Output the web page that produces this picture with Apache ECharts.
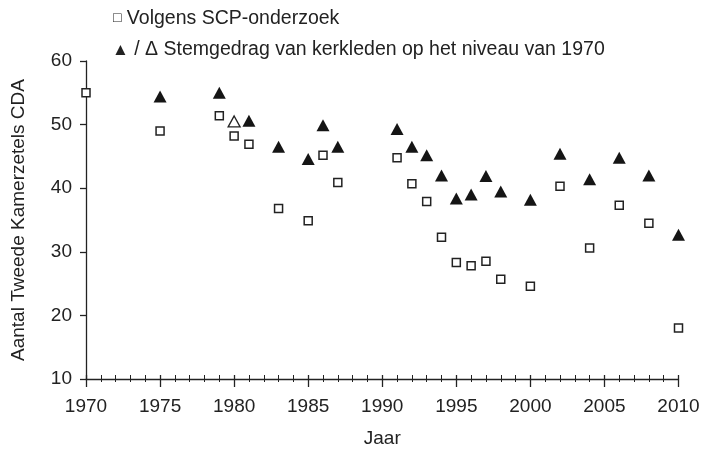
<!DOCTYPE html>
<html>
<head>
<meta charset="utf-8">
<script src="https://cdn.jsdelivr.net/npm/echarts@6/dist/echarts.min.js"></script>
<style>
  html, body { margin: 0; padding: 0; background: #fff; }
  #chart { width: 703px; height: 453px; }
</style>
</head>
<body>
<div id="chart"></div>
<script>
// SCP-onderzoek (open vierkantjes)
const scpYears = [1970, 1975, 1979, 1980, 1981, 1983, 1985, 1986, 1987, 1991, 1992, 1993, 1994, 1995, 1996, 1997, 1998, 2000, 2002, 2004, 2006, 2008, 2010]
const scpSeats = [55, 49, 51.4, 48.2, 46.9, 36.8, 34.9, 45.2, 40.9, 44.8, 40.7, 37.9, 32.3, 28.3, 27.8, 28.5, 25.7, 24.6, 40.3, 30.6, 37.3, 34.5, 18.0]

// Stemgedrag kerkleden op niveau 1970 (dichte driehoekjes)
const kerkYears = [1975, 1979, 1981, 1983, 1985, 1986, 1987, 1991, 1992, 1993, 1994, 1995, 1996, 1997, 1998, 2000, 2002, 2004, 2006, 2008, 2010]
const kerkSeats = [54.4, 55, 50.6, 46.5, 44.6, 49.9, 46.5, 49.3, 46.5, 45.2, 42.0, 38.4, 39.0, 41.9, 39.5, 38.2, 45.4, 41.4, 44.8, 42.0, 32.7]

// open driehoekje
const openYears = [1980]
const openSeats = [50.5]

const legendScp = 'Volgens SCP-onderzoek'
const legendKerk = 'Stemgedrag van kerkleden op het niveau van 1970'

const font = 'Liberation Sans, Arial, sans-serif'
const textColor = '#222'

const pairs = (xs, ys) => xs.map((x, i) => [x, ys[i]])

const chart = echarts.init(document.getElementById('chart'))

chart.setOption({
  animation: false,
  backgroundColor: '#fff',
  grid: { left: 86, right: 24.5, top: 61, bottom: 71 },
  // legenda als tekst, zoals in het origineel
  graphic: [
    {
      type: 'text', left: 113, top: 9,
      style: {
        text: '{sq|□}{t| ' + legendScp + '}',
        rich: {
          sq: { fontFamily: font, fontSize: 14, fill: textColor, padding: [0, 0, 2, 0] },
          t: { fontFamily: font, fontSize: 19.5, fill: textColor }
        }
      }
    },
    {
      type: 'text', left: 112, top: 40,
      style: {
        text: '{tr|▲}{t| / Δ ' + legendKerk + '}',
        rich: {
          tr: { fontFamily: font, fontSize: 17, fill: textColor },
          t: { fontFamily: font, fontSize: 19.5, fill: textColor }
        }
      }
    }
  ],
  xAxis: [
    {
      type: 'value', min: 1970, max: 2010, interval: 5,
      name: 'Jaar', nameLocation: 'middle', nameGap: 50,
      nameTextStyle: { fontFamily: font, fontSize: 19, color: textColor },
      axisLine: { lineStyle: { color: '#222', width: 1.3 } },
      axisTick: { show: true, inside: false, length: 8, lineStyle: { color: '#222', width: 1.3 } },
      minorTick: { show: true, splitNumber: 5, length: 3, lineStyle: { color: '#222', width: 1 } },
      axisLabel: { margin: 18, fontFamily: font, fontSize: 19, color: textColor, formatter: v => String(v) },
      splitLine: { show: false }
    },
    {
      // tweede as alleen voor de streepjes binnen de grafiek
      type: 'value', min: 1970, max: 2010, interval: 5, position: 'bottom',
      axisLine: { show: false },
      axisTick: { show: true, inside: true, length: 4, lineStyle: { color: '#222', width: 1.3 } },
      minorTick: { show: true, splitNumber: 5, length: 4, lineStyle: { color: '#222', width: 1 } },
      axisLabel: { show: false },
      splitLine: { show: false }
    }
  ],
  yAxis: {
    type: 'value', min: 10, max: 60, interval: 10,
    name: 'Aantal Tweede Kamerzetels CDA', nameLocation: 'middle', nameGap: 58,
    nameTextStyle: { fontFamily: font, fontSize: 19, color: textColor },
    axisLine: { show: true, lineStyle: { color: '#222', width: 1.3 } },
    axisTick: { show: true, length: 6, lineStyle: { color: '#222', width: 1.3 } },
    axisLabel: { margin: 14, fontFamily: font, fontSize: 19, color: textColor },
    splitLine: { show: false }
  },
  series: [
    {
      name: 'Volgens SCP-onderzoek',
      type: 'scatter',
      symbol: 'rect',
      symbolSize: 8,
      data: pairs(scpYears, scpSeats),
      itemStyle: { color: '#fff', borderColor: '#222', borderWidth: 1.5, opacity: 1 },
      z: 3
    },
    {
      name: 'Stemgedrag van kerkleden op het niveau van 1970',
      type: 'scatter',
      symbol: 'triangle',
      symbolSize: [13, 12],
      data: pairs(kerkYears, kerkSeats),
      itemStyle: { color: '#151515', opacity: 1 },
      z: 4
    },
    {
      name: 'open',
      type: 'scatter',
      symbol: 'triangle',
      symbolSize: [12, 11],
      data: pairs(openYears, openSeats),
      itemStyle: { color: '#fff', borderColor: '#222', borderWidth: 1.3, opacity: 1 },
      z: 4
    }
  ]
})
</script>
</body>
</html>
